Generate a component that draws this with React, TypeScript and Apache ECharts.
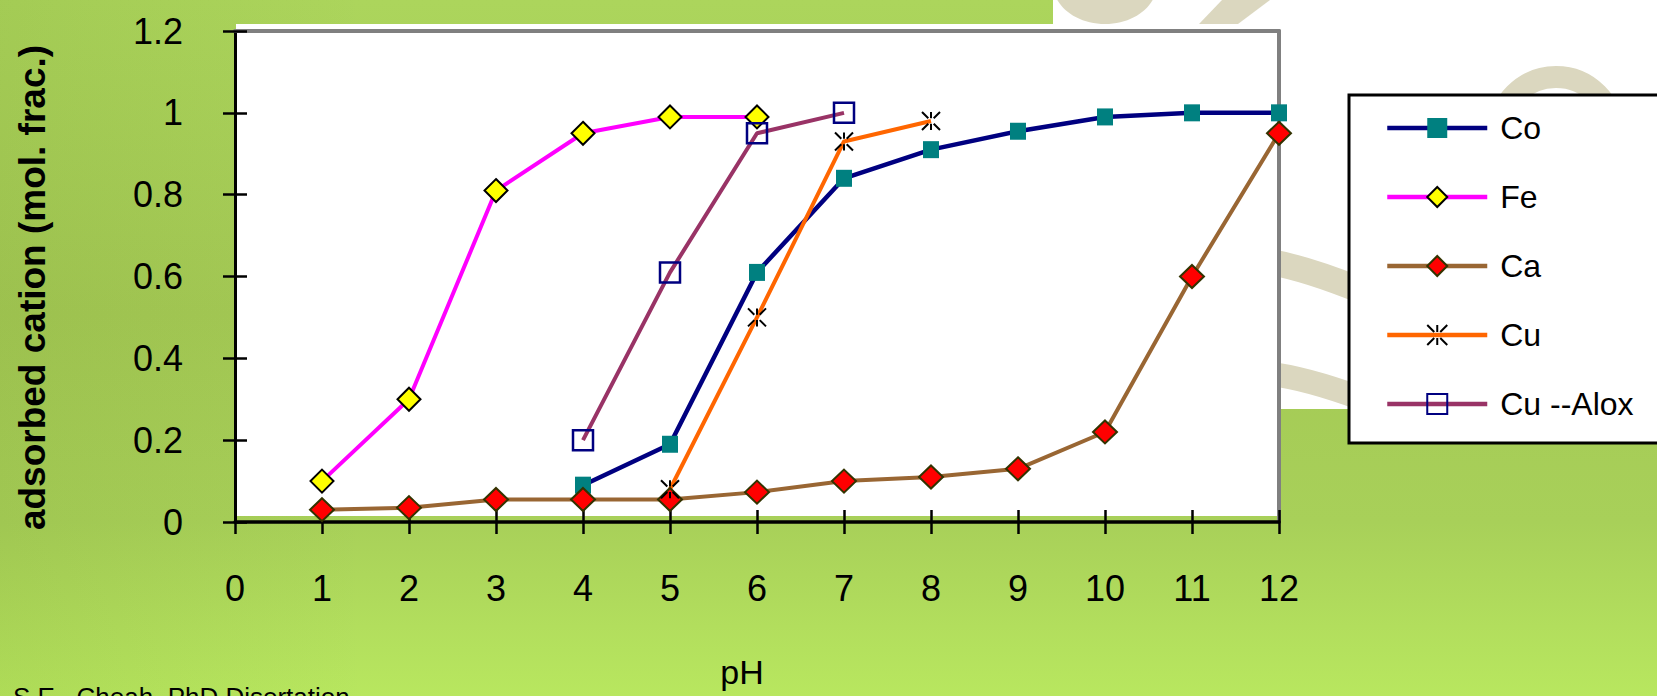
import React, { useEffect, useRef } from "react";
import * as echarts from "echarts";

// ---- data ----
const seriesNames = ["Co", "Fe", "Ca", "Cu", "Cu --Alox"];
const coPH = [4, 5, 6, 7, 8, 9, 10, 11, 12];
const coValues = [0.09, 0.19, 0.61, 0.84, 0.91, 0.955, 0.99, 1.0, 1.0];
const fePH = [1, 2, 3, 4, 5, 6];
const feValues = [0.1, 0.3, 0.81, 0.95, 0.99, 0.99];
const caPH = [1, 2, 3, 4, 5, 6, 7, 8, 9, 10, 11, 12];
const caValues = [0.03, 0.035, 0.055, 0.055, 0.055, 0.073, 0.1, 0.11, 0.13, 0.22, 0.6, 0.95];
const cuPH = [5, 6, 7, 8];
const cuValues = [0.08, 0.5, 0.93, 0.98];
const cuAloxPH = [4, 5, 6, 7];
const cuAloxValues = [0.2, 0.61, 0.95, 1.0];
const xMin = 0;
const xMax = 12;
const xStep = 1;
const yMin = 0;
const yMax = 1.2;
const yStep = 0.2;
const yAxisTitle = "adsorbed cation (mol. frac.)";
const xAxisTitle = "pH";
const footnote = "S.E., Cheah, PhD Disertation";

const FONT = '"Liberation Sans", Arial, sans-serif';
const NARROW = '"Liberation Sans Narrow", "Arial Narrow", "Liberation Sans", Arial, sans-serif';
const BEIGE = "#dbd7bf";
const ASTERISK = "path://M0,0L7,7M20,0L13,7M10,0L10,7M0,20L7,13M20,20L13,13M10,13L10,20";

const pairs = (xs: number[], ys: number[]) => xs.map((x, i) => [x, ys[i]]);

function buildOption(): any {
  const baseX = { type: "value", min: xMin, max: xMax, interval: xStep, gridIndex: 0 };
  const baseY = { type: "value", min: yMin, max: yMax, interval: yStep, gridIndex: 0 };
  return {
    animation: false,
    backgroundColor: "transparent",
    grid: { left: 235, right: 378, top: 31, bottom: 174, containLabel: false, outerBoundsMode: "none" },
    xAxis: [
      {
        ...baseX,
        position: "bottom",
        axisLine: { show: true, onZero: false, lineStyle: { color: "#000", width: 3.5 } },
        axisTick: { show: true, inside: false, length: 12, lineStyle: { color: "#000", width: 2.5 } },
        axisLabel: { show: true, margin: 48, fontSize: 36, fontFamily: FONT, color: "#000" },
        splitLine: { show: false },
        name: xAxisTitle,
        nameLocation: "middle",
        nameGap: 133,
        nameTextStyle: { fontSize: 34, fontFamily: NARROW, color: "#000", padding: [0, 30, 0, 0] },
      },
      {
        ...baseX,
        position: "bottom",
        axisLine: { show: false, onZero: false },
        axisTick: { show: true, inside: true, length: 12, lineStyle: { color: "#000", width: 2.5 } },
        axisLabel: { show: false },
        splitLine: { show: false },
      },
      {
        ...baseX,
        position: "top",
        axisLine: { show: true, onZero: false, lineStyle: { color: "#808080", width: 4 } },
        axisTick: { show: false },
        axisLabel: { show: false },
        splitLine: { show: false },
      },
    ],
    yAxis: [
      {
        ...baseY,
        position: "left",
        axisLine: { show: true, onZero: false, lineStyle: { color: "#000", width: 3 } },
        axisTick: { show: true, inside: false, length: 12, lineStyle: { color: "#000", width: 2.5 } },
        axisLabel: { show: true, margin: 52, fontSize: 36, fontFamily: FONT, color: "#000" },
        splitLine: { show: false },
        name: yAxisTitle,
        nameLocation: "middle",
        nameRotate: 90,
        nameGap: 184,
        nameTextStyle: { fontSize: 37, fontWeight: "bold", fontFamily: FONT, color: "#000", padding: [0, 22, 0, 0] },
      },
      {
        ...baseY,
        position: "left",
        axisLine: { show: false, onZero: false },
        axisTick: { show: true, inside: true, length: 12, lineStyle: { color: "#000", width: 2.5 } },
        axisLabel: { show: false },
        splitLine: { show: false },
      },
      {
        ...baseY,
        position: "right",
        axisLine: { show: true, onZero: false, lineStyle: { color: "#808080", width: 4 } },
        axisTick: { show: false },
        axisLabel: { show: false },
        splitLine: { show: false },
      },
    ],
    legend: {
      data: seriesNames,
      orient: "vertical",
      left: 1349,
      top: 95,
      padding: [13, 90, 19, 36],
      itemWidth: 100,
      itemHeight: 25,
      itemGap: 29,
      selectedMode: false,
      backgroundColor: "#ffffff",
      borderColor: "#000",
      borderWidth: 3,
      borderRadius: 0,
      lineStyle: { width: 4.5 },
      textStyle: { fontSize: 32, fontFamily: NARROW, color: "#000", lineHeight: 40, padding: [0, 0, 0, 8] },
    },
    graphic: [
      { type: "rect", z: -10, silent: true, shape: { x: 1053, y: 0, width: 604, height: 409 }, style: { fill: "#ffffff" } },
      { type: "ellipse", z: -9, silent: true, shape: { cx: 1105, cy: -16, rx: 52, ry: 40 }, style: { fill: BEIGE } },
      {
        type: "polygon", z: -9, silent: true,
        shape: { points: [[1222, 0], [1270, 0], [1238, 24], [1199, 24]] },
        style: { fill: BEIGE },
      },
      {
        type: "arc", z: -9, silent: true,
        shape: { cx: 1556, cy: 135, r: 58, startAngle: Math.PI, endAngle: 2 * Math.PI, clockwise: true },
        style: { stroke: BEIGE, lineWidth: 22, fill: null },
      },
      {
        type: "bezierCurve", z: -9, silent: true,
        shape: { x1: 1270, y1: 262, cpx1: 1305, cpy1: 268, x2: 1360, y2: 290 },
        style: { stroke: BEIGE, lineWidth: 26, fill: null },
      },
      {
        type: "bezierCurve", z: -9, silent: true,
        shape: { x1: 1270, y1: 374, cpx1: 1305, cpy1: 378, x2: 1360, y2: 398 },
        style: { stroke: BEIGE, lineWidth: 24, fill: null },
      },
      { type: "rect", z: -8, silent: true, shape: { x: 236, y: 24, width: 1043, height: 492 }, style: { fill: "#ffffff" } },
      {
        type: "text", z: 5, silent: true, x: 13, y: 684,
        style: { text: footnote, fill: "#000", fontSize: 26, fontFamily: FONT, verticalAlign: "top", align: "left" },
      },
    ],
    series: [
      {
        name: seriesNames[0], type: "line", xAxisIndex: 0, yAxisIndex: 0, clip: false,
        data: pairs(coPH, coValues),
        symbol: "rect", symbolSize: [16, 17],
        itemStyle: { color: "#008080" },
        lineStyle: { color: "#000080", width: 4.5 },
        emphasis: { disabled: true },
      },
      {
        name: seriesNames[1], type: "line", xAxisIndex: 0, yAxisIndex: 0, clip: false,
        data: pairs(fePH, feValues),
        symbol: "diamond", symbolSize: [23, 23],
        itemStyle: { color: "#ffff00", borderColor: "#000", borderWidth: 2 },
        lineStyle: { color: "#ff00ff", width: 4 },
        emphasis: { disabled: true },
      },
      {
        name: seriesNames[2], type: "line", xAxisIndex: 0, yAxisIndex: 0, clip: false,
        data: pairs(caPH, caValues),
        symbol: "diamond", symbolSize: [24, 23],
        itemStyle: { color: "#ff0000", borderColor: "#333300", borderWidth: 2 },
        lineStyle: { color: "#996633", width: 4 },
        emphasis: { disabled: true },
      },
      {
        name: seriesNames[3], type: "line", xAxisIndex: 0, yAxisIndex: 0, clip: false,
        data: pairs(cuPH, cuValues),
        symbol: ASTERISK, symbolSize: 18,
        itemStyle: { color: "#000", borderColor: "#000", borderWidth: 2 },
        lineStyle: { color: "#ff6600", width: 4 },
        emphasis: { disabled: true },
      },
      {
        name: seriesNames[4], type: "line", xAxisIndex: 0, yAxisIndex: 0, clip: false,
        data: pairs(cuAloxPH, cuAloxValues),
        symbol: "rect", symbolSize: 20,
        itemStyle: { color: "rgba(255,255,255,0)", borderColor: "#000080", borderWidth: 2.5 },
        lineStyle: { color: "#993366", width: 4 },
        emphasis: { disabled: true },
      },
    ],
  };
}

export default function App() {
  const ref = useRef<HTMLDivElement>(null);
  useEffect(() => {
    document.body.style.margin = "0";
    const chart = echarts.init(ref.current as HTMLDivElement, null, { renderer: "svg" });
    chart.setOption(buildOption());
    return () => chart.dispose();
  }, []);
  return (
    <div
      ref={ref}
      style={{
        width: 1657,
        height: 696,
        background:
          "linear-gradient(90deg, rgba(90,120,20,0.10) 0%, rgba(90,120,20,0) 22%), linear-gradient(180deg, #acd55c 0%, #a4c955 45%, #a8d059 75%, #b2de5d 90%, #b8e75f 100%)",
      }}
    />
  );
}
